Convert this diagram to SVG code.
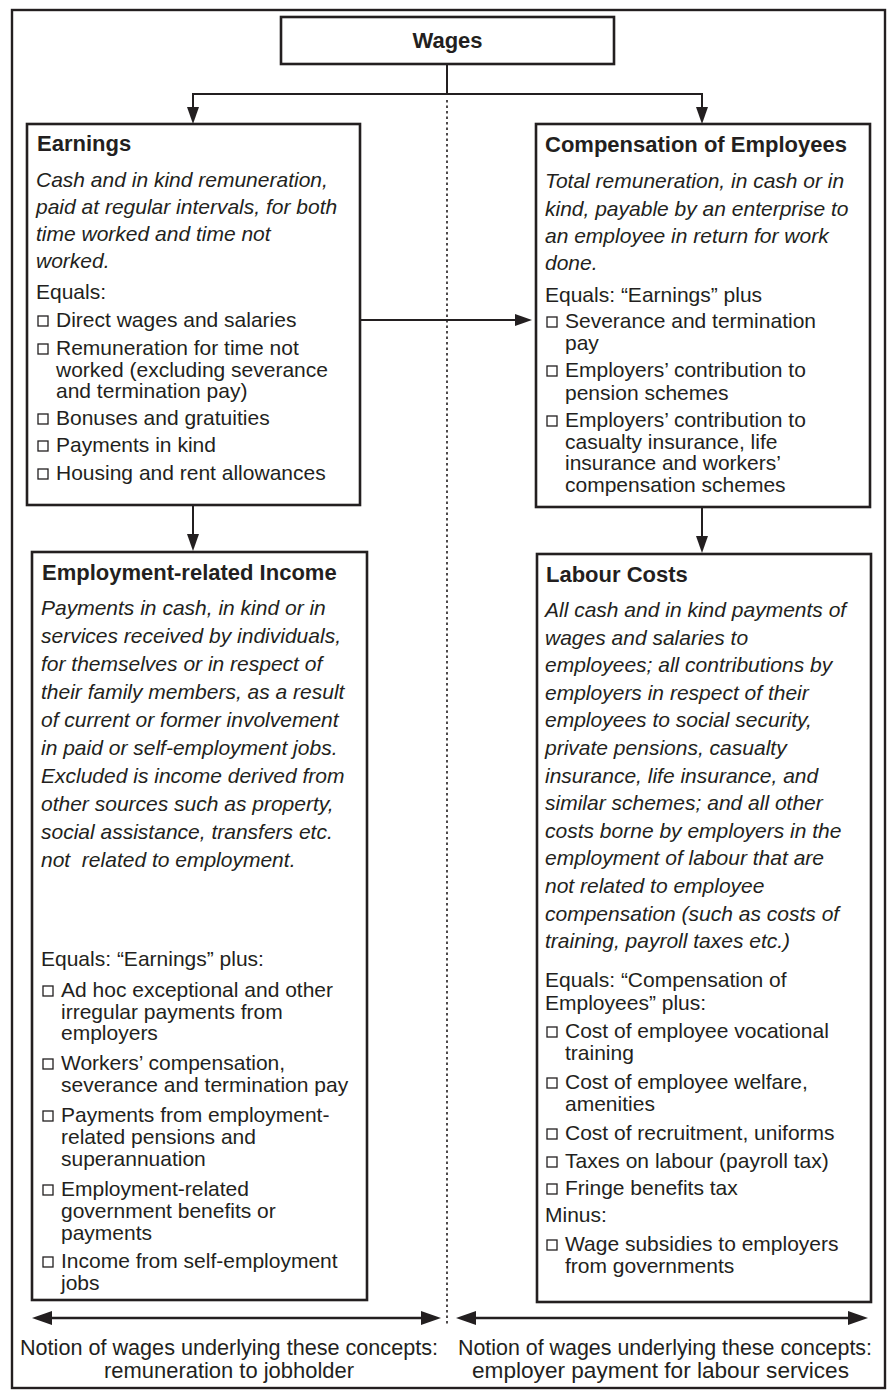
<svg xmlns="http://www.w3.org/2000/svg" width="887" height="1394" viewBox="0 0 887 1394">
  <defs>
    <style>
      .frame { fill: none; stroke: #231f20; stroke-width: 2.4; }
      .box { fill: #ffffff; stroke: #231f20; stroke-width: 2.6; }
      .ln { fill: none; stroke: #231f20; stroke-width: 2; }
      .lb { fill: none; stroke: #231f20; stroke-width: 2.6; }
      .dot { fill: none; stroke: #231f20; stroke-width: 1.6; stroke-dasharray: 2.5 3; }
      .chk { fill: none; stroke: #231f20; stroke-width: 1.3; }
      text { font-family: "Liberation Sans", Arial, sans-serif; font-size: 21px; fill: #231f20; }
      .h { font-weight: bold; font-size: 22px; }
      .i { font-style: italic; }
      .n { font-size: 22px; }
    </style>
    <marker id="ah" viewBox="0 0 17 12" refX="9" refY="6" markerWidth="17" markerHeight="12" markerUnits="userSpaceOnUse" orient="auto-start-reverse">
      <path d="M0,0 L17,6 L0,12 Z" fill="#231f20"/>
    </marker>
    <marker id="ahb" viewBox="0 0 20 14" refX="10" refY="7" markerWidth="20" markerHeight="14" markerUnits="userSpaceOnUse" orient="auto-start-reverse">
      <path d="M0,0 L20,7 L0,14 Z" fill="#231f20"/>
    </marker>
    <rect id="sq" width="10" height="10" class="chk"/>
  </defs>

  <rect class="frame" x="12" y="10" width="873" height="1378"/>

  <!-- connectors -->
  <g id="connectors">
    <line class="dot" x1="447" y1="100" x2="447" y2="1326"/>
    <path class="ln" d="M447,64 V94"/>
    <path class="ln" d="M193,94 H702"/>
    <line class="ln" x1="193" y1="93" x2="193" y2="116" marker-end="url(#ah)"/>
    <line class="ln" x1="702" y1="93" x2="702" y2="116" marker-end="url(#ah)"/>
    <line class="ln" x1="360" y1="320" x2="524" y2="320" marker-end="url(#ah)"/>
    <line class="ln" x1="193" y1="505" x2="193" y2="543" marker-end="url(#ah)"/>
    <line class="ln" x1="702" y1="507" x2="702" y2="545" marker-end="url(#ah)"/>
    <line class="lb" x1="42" y1="1318" x2="431" y2="1318" marker-start="url(#ahb)" marker-end="url(#ahb)"/>
    <line class="lb" x1="466" y1="1318" x2="858" y2="1318" marker-start="url(#ahb)" marker-end="url(#ahb)"/>
  </g>

  <!-- top node -->
  <g id="wages">
    <rect class="box" x="281" y="17" width="333" height="47"/>
    <text class="h" x="447.5" y="48" text-anchor="middle">Wages</text>
  </g>

  <!-- left column, upper -->
  <g id="earnings">
    <rect class="box" x="27" y="124" width="333" height="381"/>
    <text class="h" x="37" y="151">Earnings</text>
    <text class="i" x="36" y="187">Cash and in kind remuneration,</text>
    <text class="i" x="36" y="214">paid at regular intervals, for both</text>
    <text class="i" x="36" y="241">time worked and time not</text>
    <text class="i" x="36" y="268">worked.</text>
    <text x="36" y="299">Equals:</text>
    <use href="#sq" x="38" y="316"/>
    <text x="56" y="327">Direct wages and salaries</text>
    <use href="#sq" x="38" y="344"/>
    <text x="56" y="355">Remuneration for time not</text>
    <text x="56" y="377">worked (excluding severance</text>
    <text x="56" y="398">and termination pay)</text>
    <use href="#sq" x="38" y="414"/>
    <text x="56" y="425">Bonuses and gratuities</text>
    <use href="#sq" x="38" y="441"/>
    <text x="56" y="452">Payments in kind</text>
    <use href="#sq" x="38" y="469"/>
    <text x="56" y="480">Housing and rent allowances</text>
  </g>

  <!-- right column, upper -->
  <g id="compensation">
    <rect class="box" x="536" y="124" width="334" height="383"/>
    <text class="h" x="545" y="152">Compensation of Employees</text>
    <text class="i" x="545" y="188">Total remuneration, in cash or in</text>
    <text class="i" x="545" y="216">kind, payable by an enterprise to</text>
    <text class="i" x="545" y="243">an employee in return for work</text>
    <text class="i" x="545" y="270">done.</text>
    <text x="545" y="302">Equals: “Earnings” plus</text>
    <use href="#sq" x="547" y="317"/>
    <text x="565" y="328">Severance and termination</text>
    <text x="565" y="350">pay</text>
    <use href="#sq" x="547" y="366"/>
    <text x="565" y="377">Employers’ contribution to</text>
    <text x="565" y="400">pension schemes</text>
    <use href="#sq" x="547" y="416"/>
    <text x="565" y="427">Employers’ contribution to</text>
    <text x="565" y="449">casualty insurance, life</text>
    <text x="565" y="470">insurance and workers’</text>
    <text x="565" y="492">compensation schemes</text>
  </g>

  <!-- left column, lower -->
  <g id="employment-income">
    <rect class="box" x="32" y="552" width="335" height="748"/>
    <text class="h" x="42" y="580">Employment-related Income</text>
    <text class="i" x="41" y="615">Payments in cash, in kind or in</text>
    <text class="i" x="41" y="643">services received by individuals,</text>
    <text class="i" x="41" y="671">for themselves or in respect of</text>
    <text class="i" x="41" y="699">their family members, as a result</text>
    <text class="i" x="41" y="727">of current or former involvement</text>
    <text class="i" x="41" y="755">in paid or self-employment jobs.</text>
    <text class="i" x="41" y="783">Excluded is income derived from</text>
    <text class="i" x="41" y="811">other sources such as property,</text>
    <text class="i" x="41" y="839">social assistance, transfers etc.</text>
    <text class="i" x="41" y="867" xml:space="preserve">not  related to employment.</text>
    <text x="41" y="966">Equals: “Earnings” plus:</text>
    <use href="#sq" x="43" y="986"/>
    <text x="61" y="997">Ad hoc exceptional and other</text>
    <text x="61" y="1019">irregular payments from</text>
    <text x="61" y="1040">employers</text>
    <use href="#sq" x="43" y="1059"/>
    <text x="61" y="1070">Workers’ compensation,</text>
    <text x="61" y="1092">severance and termination pay</text>
    <use href="#sq" x="43" y="1111"/>
    <text x="61" y="1122">Payments from employment-</text>
    <text x="61" y="1144">related pensions and</text>
    <text x="61" y="1166">superannuation</text>
    <use href="#sq" x="43" y="1185"/>
    <text x="61" y="1196">Employment-related</text>
    <text x="61" y="1218">government benefits or</text>
    <text x="61" y="1240">payments</text>
    <use href="#sq" x="43" y="1257"/>
    <text x="61" y="1268">Income from self-employment</text>
    <text x="61" y="1290">jobs</text>
  </g>

  <!-- right column, lower -->
  <g id="labour-costs">
    <rect class="box" x="537" y="554" width="334" height="748"/>
    <text class="h" x="546" y="582">Labour Costs</text>
    <text class="i" x="545" y="617">All cash and in kind payments of</text>
    <text class="i" x="545" y="645">wages and salaries to</text>
    <text class="i" x="545" y="672">employees; all contributions by</text>
    <text class="i" x="545" y="700">employers in respect of their</text>
    <text class="i" x="545" y="727">employees to social security,</text>
    <text class="i" x="545" y="755">private pensions, casualty</text>
    <text class="i" x="545" y="783">insurance, life insurance, and</text>
    <text class="i" x="545" y="810">similar schemes; and all other</text>
    <text class="i" x="545" y="838">costs borne by employers in the</text>
    <text class="i" x="545" y="865">employment of labour that are</text>
    <text class="i" x="545" y="893">not related to employee</text>
    <text class="i" x="545" y="921">compensation (such as costs of</text>
    <text class="i" x="545" y="948">training, payroll taxes etc.)</text>
    <text x="545" y="987">Equals: “Compensation of</text>
    <text x="545" y="1010">Employees” plus:</text>
    <use href="#sq" x="547" y="1027"/>
    <text x="565" y="1038">Cost of employee vocational</text>
    <text x="565" y="1060">training</text>
    <use href="#sq" x="547" y="1078"/>
    <text x="565" y="1089">Cost of employee welfare,</text>
    <text x="565" y="1111">amenities</text>
    <use href="#sq" x="547" y="1129"/>
    <text x="565" y="1140">Cost of recruitment, uniforms</text>
    <use href="#sq" x="547" y="1157"/>
    <text x="565" y="1168">Taxes on labour (payroll tax)</text>
    <use href="#sq" x="547" y="1184"/>
    <text x="565" y="1195">Fringe benefits tax</text>
    <text x="545" y="1222">Minus:</text>
    <use href="#sq" x="547" y="1240"/>
    <text x="565" y="1251">Wage subsidies to employers</text>
    <text x="565" y="1273">from governments</text>
  </g>

  <!-- captions under the two halves -->
  <g id="caption-left">
    <text class="n" x="20" y="1355" textLength="418" lengthAdjust="spacingAndGlyphs">Notion of wages underlying these concepts:</text>
    <text class="n" x="104" y="1378" textLength="250" lengthAdjust="spacingAndGlyphs">remuneration to jobholder</text>
  </g>
  <g id="caption-right">
    <text class="n" x="458" y="1355" textLength="414" lengthAdjust="spacingAndGlyphs">Notion of wages underlying these concepts:</text>
    <text class="n" x="472" y="1378" textLength="377" lengthAdjust="spacingAndGlyphs">employer payment for labour services</text>
  </g>
</svg>
